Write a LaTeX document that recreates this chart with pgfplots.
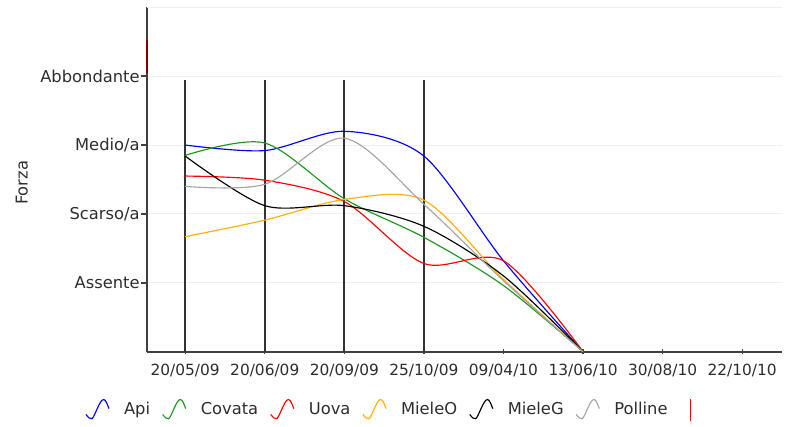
\documentclass[border=0pt]{standalone}
\usepackage{pgfplots}
\pgfplotsset{compat=1.18}
\usepackage{fontspec}
\setmainfont{DejaVu Sans}
\definecolor{cgreen}{RGB}{30,150,30}
\definecolor{corange}{RGB}{255,176,0}
\definecolor{cgray}{RGB}{165,165,165}
\definecolor{cdark}{RGB}{128,0,0}
\definecolor{ctext}{RGB}{45,45,45}
\pgfplotsset{redbar/.style={legend image code/.code={\draw[##1] (0pt,-7.5pt) (6.5pt,-7.5pt) -- (6.5pt,7pt);}}}
\begin{document}
\begin{tikzpicture}
\path[use as bounding box] (-95.55pt,-48.95pt) rectangle (428.35pt,228.6pt);
\begin{axis}[
  at={(0,0)}, anchor=south west, scale only axis,
  width=412.75pt, height=223.86pt,
  xmin=-0.48, xmax=7.5, ymin=0, ymax=5,
  axis x line*=bottom, axis y line*=left,
  axis line style={-, black!75, line width=1.1pt},
  xtick={0,...,7},
  xticklabels={20/05/09,20/06/09,20/09/09,25/10/09,09/04/10,13/06/10,30/08/10,22/10/10},
  ytick={1,2,3,4},
  yticklabels={Assente,Scarso/a,Medio/a,Abbondante},
  xtick align=center, ytick align=outside,
  major tick length=3.6pt,
  tick style={black!75, line width=0.9pt},
  ymajorgrids, grid style={gray!12, line width=0.6pt},
  x tick label style={font=\fontsize{10}{12}\selectfont, text=ctext, yshift=-2.5pt},
  y tick label style={font=\fontsize{10.6}{12}\selectfont, text=ctext, inner xsep=1pt},
  ylabel={Forza},
  ylabel style={at={(axis description cs:-0.197,0.49)}, anchor=center, font=\fontsize{10.6}{12}\selectfont, text=ctext},
  clip=false,
  legend columns=-1,
  legend style={at={(axis description cs:-0.0976,-0.169)}, anchor=west, draw=none, fill=none,
    font=\fontsize{10.6}{12}\selectfont, text=ctext, inner sep=0pt,
    /tikz/every odd column/.append style={column sep=7.4pt},
    /tikz/every even column/.append style={column sep=5.8pt}},
  legend image code/.code={\draw[#1, line width=0.75pt] (0pt,-3.2pt) .. controls (1.5pt,-5pt) and (2.5pt,-6.5pt) .. (4pt,-6pt) .. controls (6pt,-4pt) and (9pt,6.5pt) .. (11.5pt,6.5pt) .. controls (13pt,6.5pt) and (14pt,3pt) .. (15pt,0.6pt);},
]
\draw[gray!12, line width=0.6pt] (rel axis cs:0,1) -- (rel axis cs:1,1);
\addplot[ycomb, black!80, line width=1.2pt, forget plot] coordinates {(0,3.94) (1,3.94) (2,3.94) (3,3.94)};
\addplot[cdark, line width=1.1pt, forget plot] coordinates {(-0.48,4.04) (-0.48,4.53)};

\addplot[blue, line width=0.75pt, smooth] coordinates {(0,3.0) (1,2.92) (2,3.2) (3,2.84) (4,1.32) (5,0)};
\addlegendentry{Api}
\addplot[cgreen, line width=0.75pt, smooth] coordinates {(0,2.85) (1,3.03) (2,2.22) (3,1.66) (4,0.96) (5,0)};
\addlegendentry{Covata}
\addplot[red, line width=0.75pt, smooth] coordinates {(0,2.55) (1,2.49) (2,2.18) (3,1.28) (4,1.32) (5,0)};
\addlegendentry{Uova}
\addplot[corange, line width=0.75pt, smooth] coordinates {(0,1.67) (1,1.91) (2,2.21) (3,2.2) (4,1.05) (5,0)};
\addlegendentry{MieleO}
\addplot[black, line width=0.75pt, smooth] coordinates {(0,2.84) (1,2.12) (2,2.12) (3,1.82) (4,1.1) (5,0)};
\addlegendentry{MieleG}
\addplot[cgray, line width=0.75pt, smooth] coordinates {(0,2.4) (1,2.43) (2,3.1) (3,2.14) (4,1.03) (5,0)};
\addlegendentry{Polline}
\addlegendimage{red, line width=0.8pt, redbar}
\addlegendentry{}
\end{axis}
\end{tikzpicture}
\end{document}
